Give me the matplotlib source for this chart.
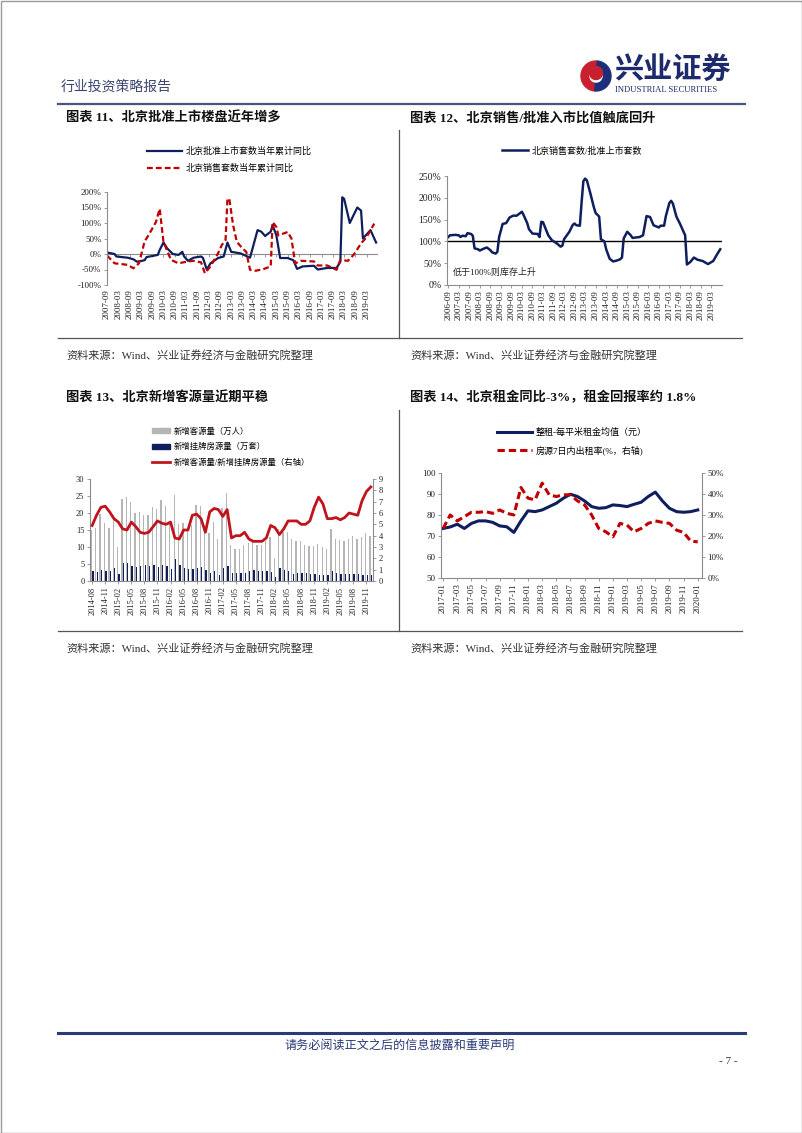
import matplotlib
matplotlib.use("Agg")
import matplotlib.pyplot as plt
from matplotlib.lines import Line2D
from matplotlib.patches import Patch, Rectangle, Wedge
import numpy as np

W, H = 802, 1133
plt.rcParams['font.family'] = ['Liberation Serif', 'Noto Sans CJK SC', 'DejaVu Sans']
NAVY = '#0f1f5e'
RED = '#c00000'
AXC = '#8c8c8c'

# ---------- 图表11 : 北京批准上市 / 销售套数当年累计同比 (%) ----------
c11_blue_dates = ['2007-09', '2008-01', '2008-02', '2008-08', '2008-11', '2009-01', '2009-05', '2009-06',
                  '2009-12', '2010-01', '2010-03', '2010-05', '2010-08', '2010-11', '2011-01', '2011-02',
                  '2011-04', '2011-07', '2011-11', '2011-12', '2012-02', '2012-04', '2012-08', '2012-11',
                  '2013-01', '2013-03', '2013-08', '2014-01', '2014-05', '2014-07', '2014-09', '2014-12',
                  '2015-01', '2015-03', '2015-05', '2015-09', '2015-12', '2016-02', '2016-05', '2016-11',
                  '2017-01', '2017-06', '2017-11', '2018-01', '2018-02', '2018-03', '2018-06', '2018-10',
                  '2018-12', '2019-01', '2019-05', '2019-08']
c11_blue = [5, 0, -8, -12, -17, -25, -20, -10, -3, 13, 37, 18, 0, -3, 7, -8, -22, -12, -8, -13,
            -50, -30, -13, -8, 37, 7, 2, -12, 77, 72, 58, 72, 93, 60, -13, -13, -20, -48, -40, -38,
            -50, -45, -45, -25, 183, 178, 100, 150, 140, 50, 77, 37]
c11_red_dates = ['2007-09', '2008-01', '2008-08', '2008-11', '2009-02', '2009-05', '2009-07', '2009-11',
                 '2010-01', '2010-03', '2010-07', '2010-11', '2011-04', '2011-07', '2011-11', '2012-01',
                 '2012-04', '2012-08', '2012-10', '2012-12', '2013-01', '2013-02', '2013-04', '2013-06',
                 '2013-09', '2013-11', '2014-01', '2014-04', '2014-08', '2014-12', '2015-01', '2015-03',
                 '2015-04', '2015-09', '2015-11', '2016-01', '2016-04', '2016-11', '2017-01', '2017-06',
                 '2017-11', '2018-01', '2018-05', '2018-08', '2018-12', '2019-03', '2019-07']
c11_red = [-5, -30, -35, -46, -30, 41, 60, 103, 146, 39, -19, -30, -24, -22, -27, -62, -40, 2, 29, 45,
           178, 178, 93, 39, 18, 7, -51, -54, -49, -40, 103, 87, 60, 71, 50, -30, -22, -24, -37, -37,
           -51, -19, -22, -3, 34, 55, 98]
c11_ticks = ['2007-09', '2008-03', '2008-09', '2009-03', '2009-09', '2010-03', '2010-09', '2011-03',
             '2011-09', '2012-03', '2012-09', '2013-03', '2013-09', '2014-03', '2014-09', '2015-03',
             '2015-09', '2016-03', '2016-09', '2017-03', '2017-09', '2018-03', '2018-09', '2019-03']

# ---------- 图表12 : 北京销售套数/批准上市套数 (%) ----------
c12_dates = ['2006-09', '2006-10', '2007-01', '2007-03', '2007-04', '2007-05', '2007-07', '2007-08',
             '2007-10', '2007-11', '2007-12', '2008-02', '2008-03', '2008-05', '2008-07', '2008-09',
             '2008-10', '2008-12', '2009-01', '2009-02', '2009-04', '2009-06', '2009-08', '2009-10',
             '2009-12', '2010-02', '2010-03', '2010-04', '2010-06', '2010-07', '2010-09', '2010-12',
             '2011-01', '2011-02', '2011-03', '2011-06', '2011-08', '2011-11', '2012-01', '2012-02',
             '2012-03', '2012-06', '2012-08', '2012-09', '2012-10', '2012-12', '2013-01', '2013-02',
             '2013-03', '2013-04', '2013-06', '2013-08', '2013-09', '2013-11', '2013-12', '2014-02',
             '2014-03', '2014-05', '2014-07', '2014-09', '2014-11', '2014-12', '2015-01', '2015-03',
             '2015-05', '2015-06', '2015-08', '2015-10', '2015-12', '2016-02', '2016-04', '2016-06',
             '2016-09', '2016-10', '2016-12', '2017-01', '2017-03', '2017-04', '2017-05', '2017-07',
             '2017-09', '2017-12', '2018-01', '2018-03', '2018-05', '2018-07', '2018-10', '2019-01',
             '2019-04', '2019-06', '2019-08']
c12_vals = [110, 114, 115, 114, 110, 113, 112, 119, 117, 113, 84, 82, 79, 83, 86, 80, 75, 72, 76, 110,
            140, 142, 155, 159, 159, 165, 168, 160, 142, 128, 118, 117, 110, 145, 144, 114, 103, 95, 88, 90,
            105, 122, 138, 141, 137, 136, 190, 238, 244, 240, 210, 178, 165, 157, 105, 100, 82, 60, 54, 56,
            59, 63, 107, 122, 114, 108, 109, 110, 114, 158, 156, 137, 132, 136, 136, 158, 188, 193, 187, 157,
            141, 114, 47, 53, 63, 58, 55, 48, 55, 69, 82]
c12_ticks = ['2006-09', '2007-03', '2007-09', '2008-03', '2008-09', '2009-03', '2009-09', '2010-03',
             '2010-09', '2011-03', '2011-09', '2012-03', '2012-09', '2013-03', '2013-09', '2014-03',
             '2014-09', '2015-03', '2015-09', '2016-03', '2016-09', '2017-03', '2017-09', '2018-03',
             '2018-09', '2019-03']

# ---------- 图表13 : 新增客源量 / 新增挂牌房源量 (2014-08 ~ 2019-12, 月度) ----------
c13_guest = [15, 15.5, 19.8, 17, 15.5, 19.5, 10, 24, 24.7, 23.3, 20, 20.2, 19.3, 19.5, 21.7, 21.3, 23.8, 22,
             17.5, 25.3, 16.8, 17, 15.5, 16.5, 22.5, 22, 15, 14, 17.5, 12.5, 21.5, 26,
             10.7, 9.4, 9.4, 10.7, 11.1, 11.4, 10.7, 10.7, 11.7, 12.9, 6.8, 15.4, 14.4, 14.4, 12.4, 11.9,
             11.7, 10.7, 10.4, 10.4, 10.9, 10.1, 9.4, 15.4, 12.4, 12.1, 11.7, 12.4, 13.1, 12.4, 12.9, 14.1, 13.2]
c13_listing = [3.0, 2.6, 3.1, 2.8, 2.8, 3.7, 2.2, 5.4, 5.2, 4.4, 4.2, 4.4, 4.7, 4.4, 4.6, 4.2, 4.6, 4.5,
               3.6, 6.5, 4.6, 3.9, 3.6, 3.6, 3.9, 4.0, 3.3, 2.5, 2.8, 1.9, 3.9, 4.3,
               2.5, 2.3, 2.3, 2.4, 3.0, 3.2, 3.0, 3.0, 3.0, 2.7, 1.2, 3.7, 3.3, 3.0, 2.2, 2.4,
               2.3, 2.4, 2.0, 2.0, 1.7, 1.7, 1.8, 2.8, 2.3, 2.2, 2.2, 2.2, 2.1, 2.1, 1.9, 1.9, 1.7]
c13_ratio = [4.9, 5.8, 6.5, 6.6, 6.1, 5.5, 5.2, 4.6, 4.5, 5.2, 4.8, 4.3, 4.2, 4.3, 4.8, 5.3, 5.1, 5.0,
             5.2, 3.8, 3.7, 4.5, 4.5, 5.8, 5.9, 5.5, 4.3, 6.1, 6.4, 6.3, 5.7, 6.3,
             3.8, 4.0, 4.0, 4.3, 3.7, 3.5, 3.5, 3.5, 3.8, 4.9, 4.7, 4.1, 4.6, 5.3, 5.3, 5.3,
             5.0, 5.0, 5.3, 6.5, 7.4, 6.8, 5.5, 5.5, 5.6, 5.4, 5.6, 6.0, 5.9, 5.8, 7.1, 7.9, 8.3]
c13_ticks = ['2014-08', '2014-11', '2015-02', '2015-05', '2015-08', '2015-11', '2016-02', '2016-05',
             '2016-08', '2016-11', '2017-02', '2017-05', '2017-08', '2017-11', '2018-02', '2018-05',
             '2018-08', '2018-11', '2019-02', '2019-05', '2019-08', '2019-11']

# ---------- 图表14 : 整租每平米租金均值 / 房源7日内出租率 (2017-01 ~ 2020-01) ----------
c14_rent = [73.6, 74.3, 75.6, 73.6, 76.0, 77.2, 77.2, 76.5, 74.8, 74.4, 71.7, 77.2, 82.0, 81.6, 82.4,
            84.0, 85.6, 88.0, 89.9, 88.8, 86.7, 84.0, 83.2, 83.5, 84.8, 84.5, 84.0, 85.1, 86.1, 88.8,
            90.9, 86.7, 83.2, 81.6, 81.3, 81.6, 82.4]
c14_rate = [23.6, 30.0, 27.2, 29.2, 31.3, 31.3, 31.6, 30.8, 32.4, 30.8, 30.0, 43.1, 38.0, 37.2, 45.2,
            39.6, 38.8, 39.6, 39.6, 36.7, 34.8, 30.0, 23.6, 22.0, 19.6, 26.0, 25.2, 22.0, 23.6, 26.0,
            27.2, 26.5, 26.0, 22.8, 21.7, 17.6, 17.2]
c14_ticks = ['2017-01', '2017-03', '2017-05', '2017-07', '2017-09', '2017-11', '2018-01', '2018-03',
             '2018-05', '2018-07', '2018-09', '2018-11', '2019-01', '2019-03', '2019-05', '2019-07',
             '2019-09', '2019-11', '2020-01']


def mi(s, base):
    y, m = s.split('-')
    by, bm = base.split('-')
    return (int(y) - int(by)) * 12 + int(m) - int(bm)


fig = plt.figure(figsize=(W / 100, H / 100), dpi=100)

# page layer in pixel coordinates
page = fig.add_axes([0, 0, 1, 1])
page.set_xlim(0, W)
page.set_ylim(H, 0)
page.axis('off')


def axbox(x0, y0, x1, y1):
    return fig.add_axes([x0 / W, 1 - y1 / H, (x1 - x0) / W, (y1 - y0) / H])


def style(ax, fs=6.5):
    for s in ['top', 'right']:
        ax.spines[s].set_visible(False)
    for s in ['left', 'bottom']:
        ax.spines[s].set_color(AXC)
        ax.spines[s].set_linewidth(0.8)
    ax.tick_params(colors=AXC, labelcolor='#222222', length=2.5, width=0.6, labelsize=fs, pad=1.5)
    ax.set_facecolor('none')


# ---- page furniture ----
page.add_patch(Rectangle((0.5, 0.5), W - 1, H - 1, fill=False, ec='#9a9a9a', lw=1))
page.text(61, 87, '行业投资策略报告', fontsize=10, color='#3b4470', va='center')
page.add_patch(Wedge((596, 76), 15, 95, 275, width=7.5, color='#c8202e'))
page.add_patch(Wedge((596, 76), 15, 275, 95, width=7.5, color='#1d2f7a'))
page.add_patch(Wedge((596, 73), 6.5, 0, 360, color='#c8202e'))
page.text(614, 71, '兴业证券', fontsize=21, fontweight='bold', color='#1d2a6b', va='center')
page.text(615, 90, 'INDUSTRIAL SECURITIES', fontsize=6.2, color='#1d2a6b', va='center')
page.plot([58, 745], [104, 104], color='#4a5280', lw=1.6)

for xx, t in [(66, '图表 11、北京批准上市楼盘近年增多'), (410, '图表 12、北京销售/批准入市比值触底回升')]:
    page.text(xx, 118, t, fontsize=9.5, fontweight='bold', color='#111111', va='center')
for xx, t in [(66, '图表 13、北京新增客源量近期平稳'), (410, '图表 14、北京租金同比-3%，租金回报率约 1.8%')]:
    page.text(xx, 398, t, fontsize=9.5, fontweight='bold', color='#111111', va='center')

for yb, ytop in [(338, 130), (631, 410)]:
    page.plot([58, 742], [yb, yb], color='#555555', lw=0.9)
    page.plot([399, 399], [ytop, yb], color='#555555', lw=0.9)
for yy in [355, 648]:
    for xx in [66, 410]:
        page.text(xx, yy, '资料来源：Wind、兴业证券经济与金融研究院整理', fontsize=8, color='#333333', va='center')

page.plot([58, 745], [1033, 1033], color='#2b3a78', lw=2.2)
page.text(400, 1046, '请务必阅读正文之后的信息披露和重要声明', fontsize=8.7, color='#2b3a78', ha='center', va='center')
page.text(738, 1062, '- 7 -', fontsize=8, color='#333333', ha='right', va='center')

# ---- 图表11 ----
ax1 = axbox(107, 192, 378, 285)
style(ax1)
xb = [mi(d, '2007-09') for d in c11_blue_dates]
xr = [mi(d, '2007-09') for d in c11_red_dates]
ax1.axhline(0, color=AXC, lw=0.8)
l1, = ax1.plot(xb, c11_blue, color=NAVY, lw=1.6, solid_joinstyle='round')
l2, = ax1.plot(xr, c11_red, color=RED, lw=1.6, dashes=(2.6, 1.4))
ax1.set_xlim(0, 144)
ax1.set_ylim(-100, 200)
ax1.set_yticks(range(-100, 201, 50))
ax1.set_yticklabels([f'{v}%' for v in range(-100, 201, 50)])
xt = [mi(d, '2007-09') for d in c11_ticks]
ax1.set_xticks(xt)
ax1.set_xticklabels(c11_ticks, rotation=90)
ax1.spines['bottom'].set_visible(False)
ax1.tick_params(axis='x', length=0, pad=3)
sec = ax1.secondary_xaxis(1 / 3)
sec.set_alignment('bottom')
sec.set_xticks(xt)
sec.set_xticklabels([])
sec.spines['bottom'].set_visible(False)
sec.tick_params(colors=AXC, length=2.5, width=0.6)
fig.legend([l1, l2], ['北京批准上市套数当年累计同比', '北京销售套数当年累计同比'],
           loc='center left', bbox_to_anchor=(147 / W, 1 - 160 / H), frameon=False, fontsize=6.5,
           handlelength=3.9, handletextpad=0.4, labelspacing=0.85, borderpad=0, borderaxespad=0)

# ---- 图表12 ----
ax2 = axbox(447, 176, 722, 285)
style(ax2, 7)
x2 = [mi(d, '2006-09') for d in c12_dates]
ax2.axhline(100, color='black', lw=1)
l3, = ax2.plot(x2, c12_vals, color=NAVY, lw=1.8, solid_joinstyle='round')
ax2.set_xlim(-0.7, 156)
ax2.set_ylim(0, 250)
ax2.set_yticks(range(0, 251, 50))
ax2.set_yticklabels([f'{v}%' for v in range(0, 251, 50)])
ax2.set_xticks([mi(d, '2006-09') for d in c12_ticks])
ax2.set_xticklabels(c12_ticks, rotation=90, fontsize=6.5)
ax2.text(0.02, 0.12, '低于100%则库存上升', transform=ax2.transAxes, fontsize=6.5, color='#222222', va='center')
fig.legend([l3], ['北京销售套数/批准上市套数'], loc='center left', bbox_to_anchor=(502 / W, 1 - 151 / H),
           frameon=False, fontsize=6.5, handlelength=2.9, handletextpad=0.35, borderpad=0, borderaxespad=0)

# ---- 图表13 ----
ax3 = axbox(90, 479, 373, 581)
style(ax3, 6)
k = np.arange(len(c13_guest))
b1 = ax3.bar(k - 0.17, c13_guest, width=0.3, color='#b5b5b5')
b2 = ax3.bar(k + 0.17, c13_listing, width=0.3, color=NAVY)
ax3.set_xlim(-0.5, len(k) - 0.5)
ax3.set_ylim(0, 30)
ax3.set_yticks(range(0, 31, 5))
ax3.set_xticks(k[::3])
ax3.set_xticklabels(c13_ticks, rotation=90)
ax3r = ax3.twinx()
style(ax3r, 6)
ax3r.spines['left'].set_visible(False)
ax3r.spines['bottom'].set_visible(False)
ax3r.spines['right'].set_visible(True)
ax3r.spines['right'].set_color(AXC)
l4, = ax3r.plot(k, c13_ratio, color='#c0141c', lw=2, solid_joinstyle='round')
ax3r.set_ylim(0, 9)
ax3r.set_yticks(range(0, 10))
fig.legend([Patch(color='#b5b5b5'), Patch(color=NAVY), l4],
           ['新增客源量（万人）', '新增挂牌房源量（万套）', '新增客源量/新增挂牌房源量（右轴）'],
           loc='center left', bbox_to_anchor=(152 / W, 1 - 447 / H), frameon=False, fontsize=6,
           handlelength=2.2, handleheight=0.55, handletextpad=0.35, labelspacing=0.85, borderpad=0,
           borderaxespad=0)

# ---- 图表14 ----
ax4 = axbox(441, 473, 702, 578)
style(ax4)
m4 = np.arange(len(c14_rent))
l5, = ax4.plot(m4, c14_rent, color=NAVY, lw=2.2, solid_joinstyle='round')
ax4.set_xlim(-0.3, 36.6)
ax4.set_ylim(50, 100)
ax4.set_yticks(range(50, 101, 10))
ax4.set_xticks(m4[::2])
ax4.set_xticklabels(c14_ticks, rotation=90)
ax4r = ax4.twinx()
style(ax4r)
ax4r.spines['left'].set_visible(False)
ax4r.spines['bottom'].set_visible(False)
ax4r.spines['right'].set_visible(True)
ax4r.spines['right'].set_color(AXC)
l6, = ax4r.plot(m4, c14_rate, color=RED, lw=2.2, dashes=(2.4, 1.3))
ax4r.set_ylim(0, 50)
ax4r.set_yticks(range(0, 51, 10))
ax4r.set_yticklabels([f'{v}%' for v in range(0, 51, 10)])
fig.legend([l5, l6], ['整租-每平米租金均值（元）', '房源7日内出租率(%，右轴)'],
           loc='center left', bbox_to_anchor=(497 / W, 1 - 441.5 / H), frameon=False, fontsize=6.5,
           handlelength=3.9, handletextpad=0.35, labelspacing=1.0, borderpad=0, borderaxespad=0)

fig.savefig('out.png', dpi=100)
